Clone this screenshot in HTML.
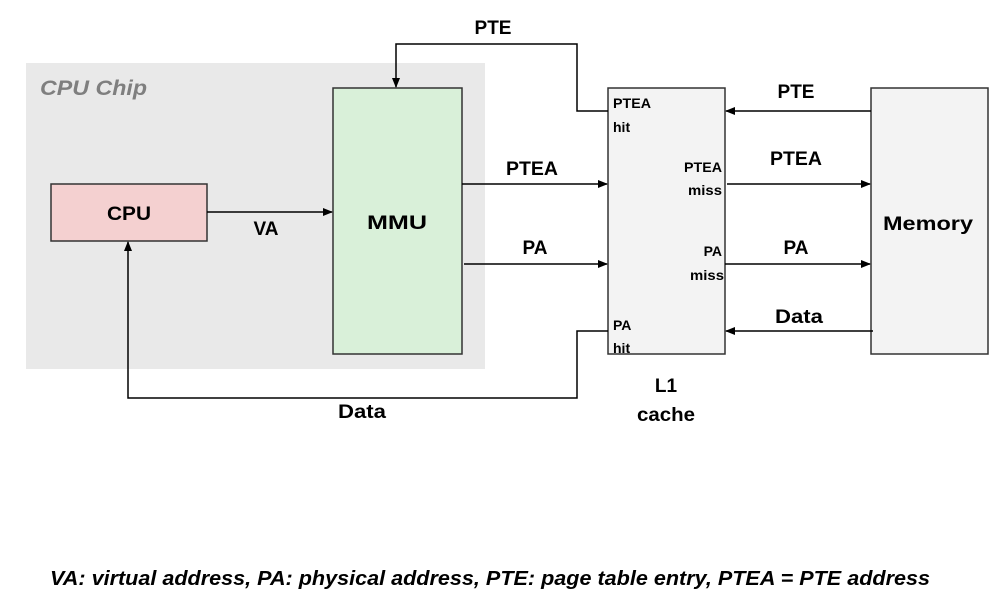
<!DOCTYPE html>
<html><head><meta charset="utf-8"><style>
html,body{margin:0;padding:0;background:#fff;}
svg{display:block;}
text{font-family:"Liberation Sans",sans-serif;font-weight:bold;fill:#000;}
</style></head><body>
<svg width="1000" height="604" viewBox="0 0 1000 604" xmlns="http://www.w3.org/2000/svg">
<defs>
<marker id="a" markerWidth="10" markerHeight="8" refX="9" refY="4" orient="auto" markerUnits="userSpaceOnUse">
<path d="M0,0 L10,4 L0,8 z" fill="#000"/></marker>
</defs>
<rect x="26" y="63" width="459" height="306" fill="#e9e9e9"/>
<text x="40" y="95" font-size="21" font-style="italic" style="fill:#7f7f7f" textLength="107" lengthAdjust="spacingAndGlyphs">CPU Chip</text>
<rect x="51" y="184" width="156" height="57" fill="#f4d0d0" stroke="#333" stroke-width="1.5"/>
<text x="129" y="220" font-size="19" text-anchor="middle" textLength="44" lengthAdjust="spacingAndGlyphs">CPU</text>
<rect x="333" y="88" width="129" height="266" fill="#d9f0d9" stroke="#333" stroke-width="1.5"/>
<text x="397" y="229" font-size="19" text-anchor="middle" textLength="60" lengthAdjust="spacingAndGlyphs">MMU</text>
<rect x="608" y="88" width="117" height="266" fill="#f3f3f3" stroke="#333" stroke-width="1.5"/>
<rect x="871" y="88" width="117" height="266" fill="#f3f3f3" stroke="#333" stroke-width="1.5"/>
<text x="928" y="230" font-size="19" text-anchor="middle" textLength="90" lengthAdjust="spacingAndGlyphs">Memory</text>
<g stroke="#000" stroke-width="1.5" fill="none">
<line x1="207" y1="212" x2="332" y2="212" marker-end="url(#a)"/>
<polyline points="608,111 577,111 577,44 396,44 396,87" marker-end="url(#a)"/>
<line x1="462" y1="184" x2="607" y2="184" marker-end="url(#a)"/>
<line x1="464" y1="264" x2="607" y2="264" marker-end="url(#a)"/>
<polyline points="608,331 577,331 577,398 128,398 128,242" marker-end="url(#a)"/>
<line x1="871" y1="111" x2="726" y2="111" marker-end="url(#a)"/>
<line x1="727" y1="184" x2="870" y2="184" marker-end="url(#a)"/>
<line x1="725" y1="264" x2="870" y2="264" marker-end="url(#a)"/>
<line x1="873" y1="331" x2="726" y2="331" marker-end="url(#a)"/>
</g>
<text x="266" y="235" font-size="19" text-anchor="middle">VA</text>
<text x="493" y="34" font-size="19" text-anchor="middle">PTE</text>
<text x="532" y="175" font-size="19" text-anchor="middle" textLength="52" lengthAdjust="spacingAndGlyphs">PTEA</text>
<text x="535" y="254" font-size="19" text-anchor="middle">PA</text>
<text x="362" y="418" font-size="19" text-anchor="middle" textLength="48" lengthAdjust="spacingAndGlyphs">Data</text>
<text x="796" y="98" font-size="19" text-anchor="middle">PTE</text>
<text x="796" y="165" font-size="19" text-anchor="middle" textLength="52" lengthAdjust="spacingAndGlyphs">PTEA</text>
<text x="796" y="254" font-size="19" text-anchor="middle">PA</text>
<text x="799" y="323" font-size="19" text-anchor="middle" textLength="48" lengthAdjust="spacingAndGlyphs">Data</text>
<text x="666" y="392" font-size="19" text-anchor="middle">L1</text>
<text x="666" y="421" font-size="19" text-anchor="middle" textLength="58" lengthAdjust="spacingAndGlyphs">cache</text>
<g font-size="14">
<text x="613" y="108" textLength="38" lengthAdjust="spacingAndGlyphs">PTEA</text>
<text x="613" y="132">hit</text>
<text x="722" y="172" text-anchor="end" textLength="38" lengthAdjust="spacingAndGlyphs">PTEA</text>
<text x="722" y="195" text-anchor="end" textLength="34" lengthAdjust="spacingAndGlyphs">miss</text>
<text x="722" y="256" text-anchor="end">PA</text>
<text x="724" y="280" text-anchor="end" textLength="34" lengthAdjust="spacingAndGlyphs">miss</text>
<text x="613" y="330">PA</text>
<text x="613" y="353">hit</text>
</g>
<text x="50" y="585" font-size="20" font-style="italic" textLength="880" lengthAdjust="spacingAndGlyphs">VA: virtual address, PA: physical address, PTE: page table entry, PTEA = PTE address</text>
</svg>
</body></html>
